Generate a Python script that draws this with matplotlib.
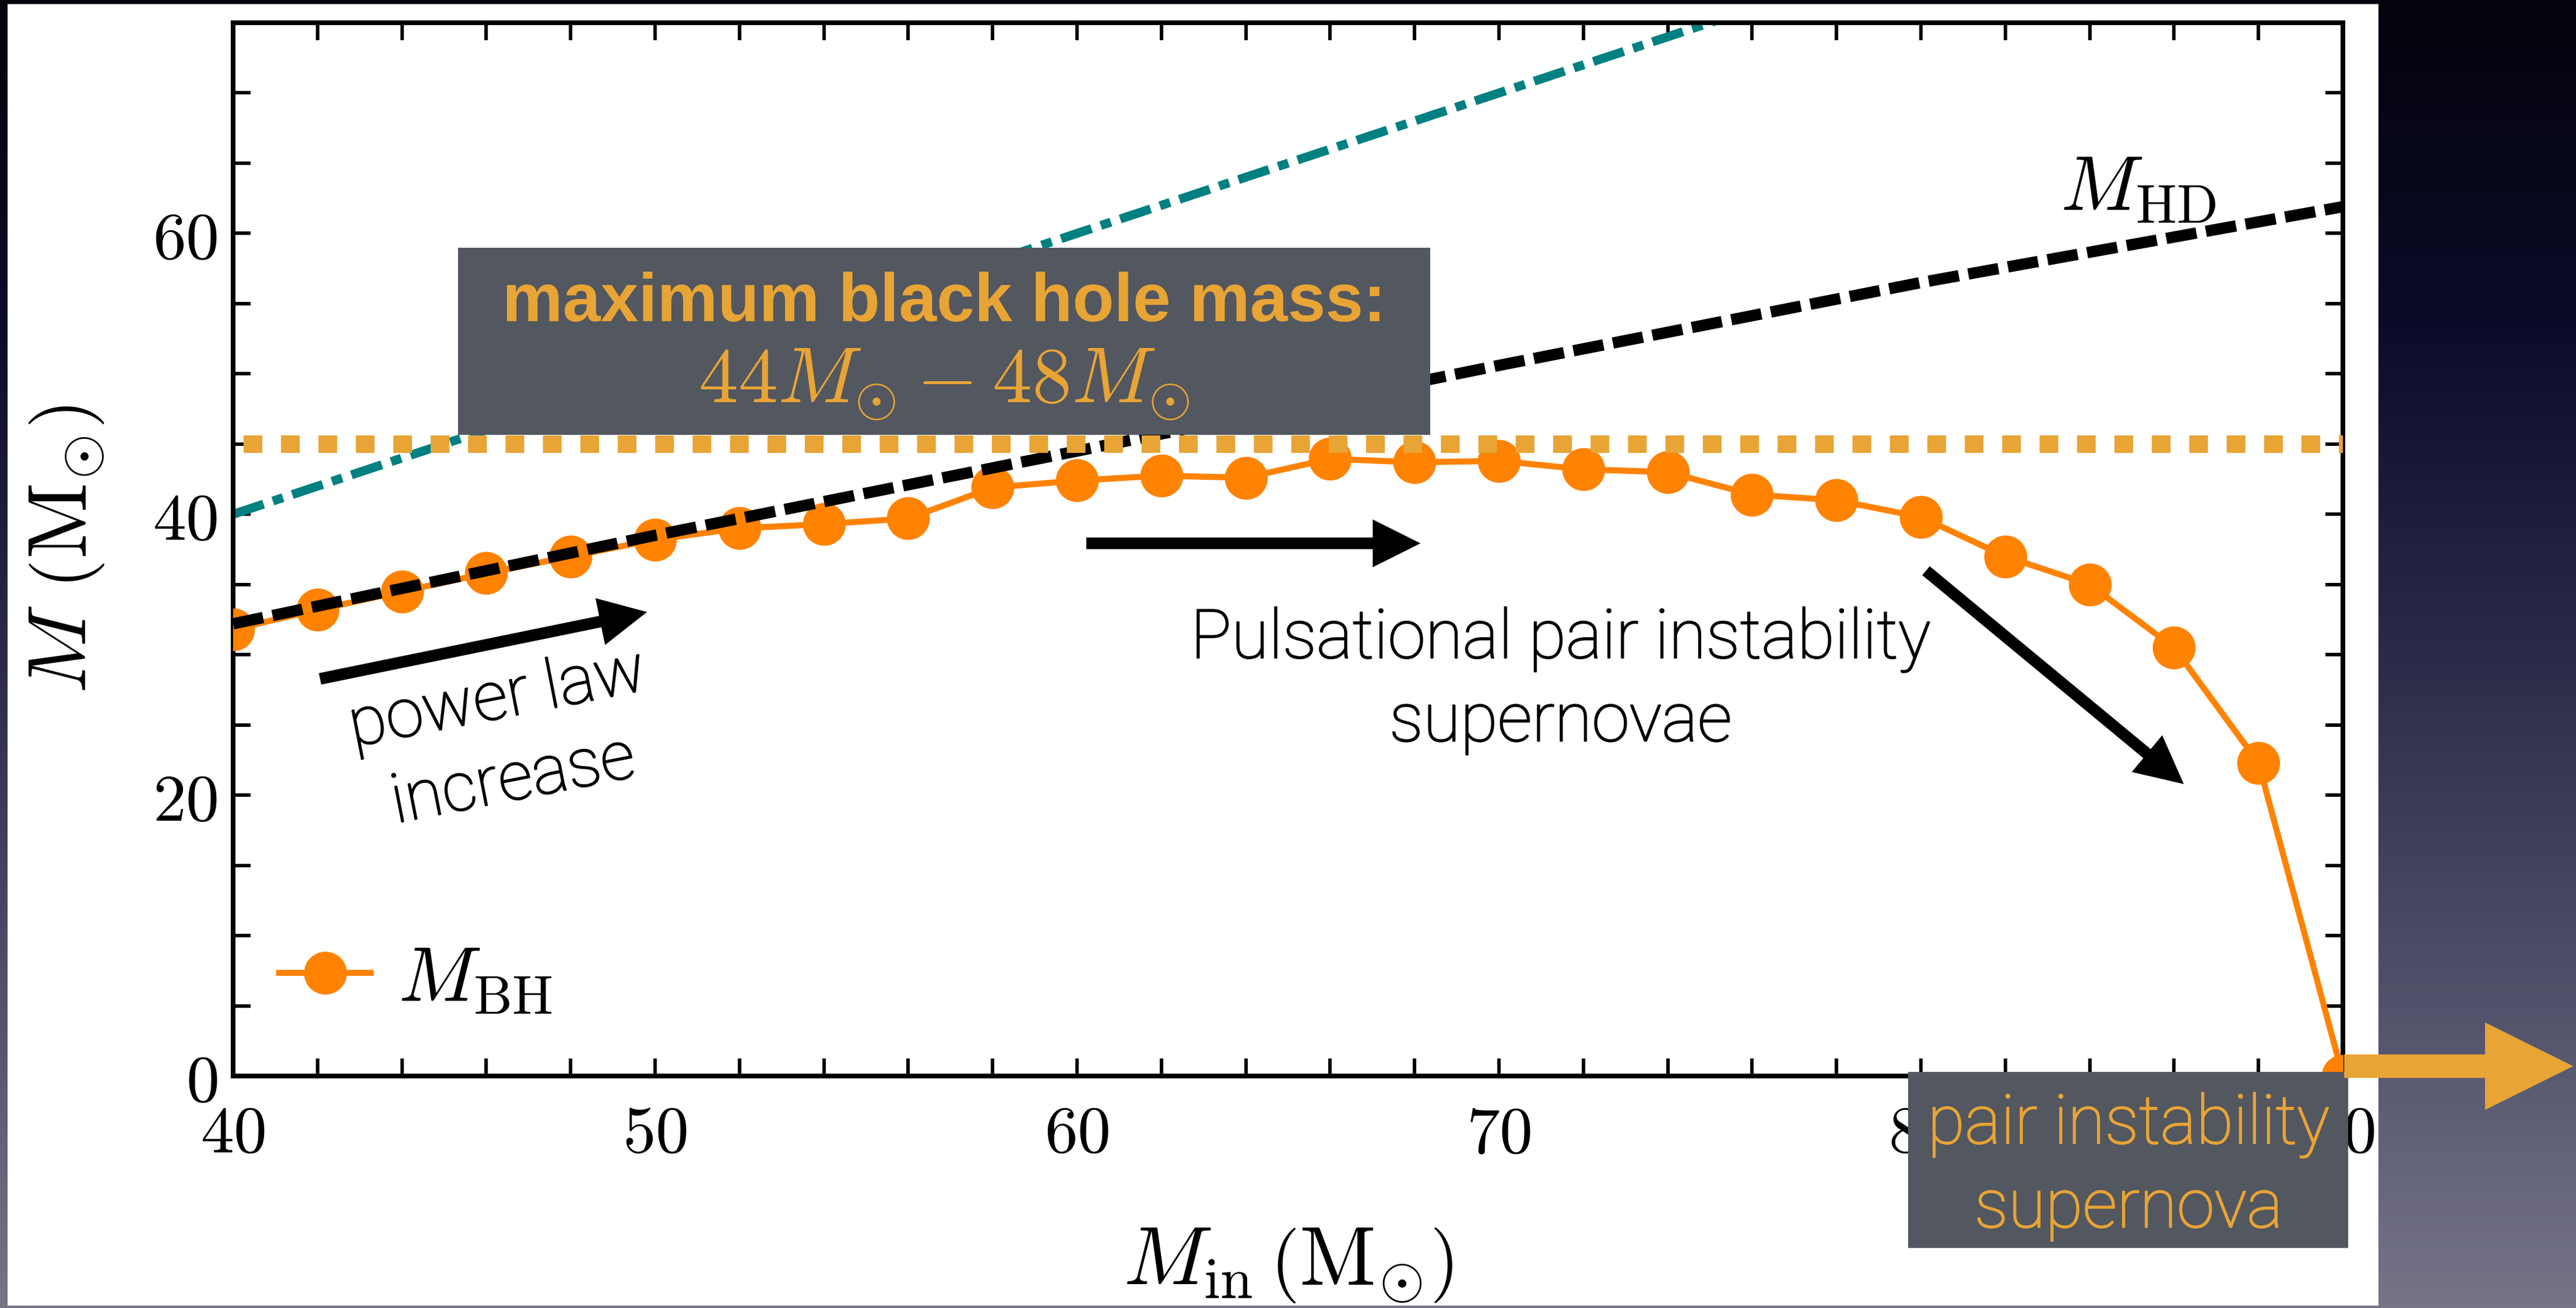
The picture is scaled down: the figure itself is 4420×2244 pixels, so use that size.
import numpy as np
import matplotlib
matplotlib.use("Agg")
import matplotlib.pyplot as plt
import matplotlib.patheffects as pe
from matplotlib.patches import Rectangle
from matplotlib.colors import LinearSegmentedColormap

plt.rcParams['mathtext.fontset'] = 'cm'

# black hole mass against initial mass
m_in = [40, 42, 44, 46, 48, 50, 52, 54, 56, 58, 60, 62, 64,
        66, 68, 70, 72, 74, 76, 78, 80, 82, 84, 86, 88, 90]
m_bh = [31.8, 33.2, 34.5, 35.8, 37.0, 38.2, 39.0, 39.3, 39.7, 41.9, 42.4, 42.75, 42.6,
        43.95, 43.7, 43.8, 43.2, 43.0, 41.4, 41.0, 39.8, 37.0, 35.0, 30.5, 22.3, 0.0]

# helium depletion mass (dashed black)
hd_in = [40, 50, 60, 70, 80, 90]
m_hd = [32.2, 38.5, 44.5, 50.6, 56.5, 61.9]

# M = M_in reference line (teal)
ref_in = [40, 90]
ref_m = [40, 90]

# maximum black hole mass level (orange dotted)
max_in = [40.25, 90]
max_m = [45, 45]

x_major = [40, 50, 60, 70, 80, 90]
y_major = [0, 20, 40, 60]

orange = '#ff8200'
gold = '#e8a435'
boxgray = '#53575f'


def light(color='k'):
    # Roboto Light, thickened a little to look like Helvetica Neue Light
    return dict(family='Roboto', fontweight='light', color=color,
                path_effects=[pe.withStroke(linewidth=1.6, foreground=color)])


fig = plt.figure(figsize=(44.2, 22.44), dpi=100)

# slide background with white panel
bg = fig.add_axes([0, 0, 1, 1], zorder=-10)
grad = np.linspace(0, 1, 256).reshape(-1, 1)
slide = LinearSegmentedColormap.from_list(
    'slide', ['#03030c', '#0c0c2a', '#2b2b49', '#4f4f69', '#757489'])
bg.imshow(grad, aspect='auto', cmap=slide, extent=[0, 1, 0, 1], origin='upper')
bg.add_patch(Rectangle((13 / 4420, 4 / 2244), 4068 / 4420, 2233 / 2244,
                       facecolor='white', edgecolor='none', transform=bg.transAxes))
bg.set_axis_off()

ax = fig.add_axes([400 / 4420, 1 - 1846 / 2244, 3620 / 4420, 1807 / 2244])

ax.plot(ref_in, ref_m, color='#008080', lw=11, dashes=(3.6, 1.1, 1.2, 1.1), zorder=2)
ax.plot(m_in, m_bh, '-o', color=orange, lw=7.5, ms=52, zorder=3, label=r'$M_{\rm BH}$')
ax.plot(hd_in, m_hd, color='k', lw=14, dashes=(2.7, 0.85), zorder=4)
ax.plot(max_in, max_m, color=gold, lw=21.6, dashes=(1.07, 1.07), zorder=5)

ax.set_xlim(40, 90)
ax.set_ylim(0, 75)
ax.set_xticks(x_major, labels=[f'${v}$' for v in x_major])
ax.set_xticks(np.arange(40, 91, 2), minor=True)
ax.set_yticks(y_major, labels=[f'${v}$' for v in y_major])
ax.set_yticks(np.arange(0, 76, 5), minor=True)
ax.tick_params(which='both', direction='in', top=True, right=True,
               length=21.6, width=4.3, labelsize=82)
ax.tick_params(axis='x', which='both', pad=32)
ax.tick_params(axis='y', which='both', pad=19)
for sp in ax.spines.values():
    sp.set_linewidth(5.8)

ax.set_xlabel(r'$M_{\rm in}\,\left(\mathrm{M}_{\odot}\right)$', fontsize=103, labelpad=70)
ax.set_ylabel(r'$M\ \left(\mathrm{M}_{\odot}\right)$', fontsize=103, labelpad=58)

ax.legend(loc='center left', bbox_to_anchor=(0.0218, 0.0924), frameon=False,
          fontsize=96, handlelength=1.18, handletextpad=0.35, borderpad=0,
          borderaxespad=0, numpoints=1)

ax.text(83.3, 61.7, r'$M_{\rm HD}$', fontsize=96, ha='left', va='baseline')

# overlay boxes
ax.add_patch(Rectangle((45.33, 45.67), 23.04, 13.29, facecolor=boxgray,
                       edgecolor='none', clip_on=False, zorder=6))
ax.text(56.85, 53.75, 'maximum black hole mass:', color=gold, fontsize=84,
        family='Liberation Sans', fontweight='bold', ha='center', va='baseline', zorder=7)
ax.text(56.85, 47.95, r'$44M_{\odot} - 48M_{\odot}$', color=gold, fontsize=98,
        ha='center', va='baseline', zorder=7)

ax.add_patch(Rectangle((79.70, -12.26), 10.42, 12.55, facecolor=boxgray,
                       edgecolor='none', clip_on=False, zorder=6))
ax.text(84.92, -4.80, 'pair instability', fontsize=84,
        ha='center', va='baseline', zorder=7, **light(gold))
ax.text(84.92, -10.77, 'supernova', fontsize=84,
        ha='center', va='baseline', zorder=7, **light(gold))

ax.text(71.46, 29.77, 'Pulsational pair instability', fontsize=84,
        ha='center', va='baseline', **light())
ax.text(71.46, 23.85, 'supernovae', fontsize=84, ha='center', va='baseline', **light())
ax.text(46.45, 23.9, 'power law\nincrease', fontsize=84, rotation=11,
        rotation_mode='anchor', ha='center', va='center', linespacing=1.35, **light())

# arrows
black_arrow = dict(arrowstyle='simple,head_length=59,head_width=59,tail_width=14.4',
                   mutation_scale=1, color='k', lw=0, shrinkA=0, shrinkB=0)
ax.annotate('', xy=(49.81, 33.04), xytext=(42.06, 28.28), arrowprops=black_arrow, zorder=8)
ax.annotate('', xy=(68.14, 37.93), xytext=(60.22, 37.93), arrowprops=black_arrow, zorder=8)
ax.annotate('', xy=(86.23, 20.79), xytext=(80.12, 35.98), arrowprops=black_arrow, zorder=8)
ax.annotate('', xy=(95.46, 0.70), xytext=(90.03, 0.70), annotation_clip=False, zorder=8,
            arrowprops=dict(arrowstyle='simple,head_length=109,head_width=108,tail_width=29',
                            mutation_scale=1, color=gold, lw=0, shrinkA=0, shrinkB=0))

fig.savefig('out.png', dpi=100)
